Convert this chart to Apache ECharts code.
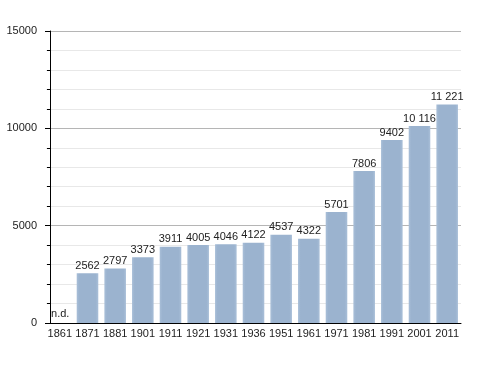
<!DOCTYPE html>
<html><head><meta charset="utf-8">
<script src="https://cdn.jsdelivr.net/npm/echarts@6/dist/echarts.min.js"></script>
<style>html,body{margin:0;padding:0;background:#fff}#c{width:488px;height:373px}</style>
</head><body><div id="c"></div>
<script>
var years = ['1861','1871','1881','1901','1911','1921','1931','1936','1951','1961','1971','1981','1991','2001','2011'];
var population = [null,2562,2797,3373,3911,4005,4046,4122,4537,4322,5701,7806,9402,10116,11221];
var valueLabels = ['n.d.','2562','2797','3373','3911','4005','4046','4122','4537','4322','5701','7806','9402','10 116','11 221'];
var yTicks = [0,5000,10000,15000];

var chart = echarts.init(document.getElementById('c'));
var barColor = new echarts.graphic.LinearGradient(0,0,1,0,[
  {offset:0,color:'#a9bfd8'},{offset:0.12,color:'#9bb3cf'},{offset:0.88,color:'#9bb3cf'},{offset:1,color:'#a9bfd8'}]);
chart.setOption({
  animation:false,
  grid:{left:46,right:27,top:31,bottom:50},
  xAxis:{type:'category',data:years,
    axisLine:{lineStyle:{color:'#000',width:1}},axisTick:{show:false},
    axisLabel:{color:'#222',fontSize:11,fontFamily:'Liberation Sans, Arial',margin:5,interval:0}},
  yAxis:{type:'value',min:yTicks[0],max:yTicks[yTicks.length-1],interval:5000,offset:-4,
    axisLine:{show:true,lineStyle:{color:'#000',width:1}},
    axisTick:{show:true,length:5,lineStyle:{color:'#000'}},
    minorTick:{show:true,splitNumber:5,length:3,lineStyle:{color:'#000'}},
    splitLine:{lineStyle:{color:'#b5b5b5',width:1}},
    minorSplitLine:{show:true,lineStyle:{color:'#e8e8e8',width:1}},
    axisLabel:{color:'#222',fontSize:11,fontFamily:'Liberation Sans, Arial',margin:13,
      formatter:function(v){return String(v);}}},
  series:[{type:'bar',barCategoryGap:'22%',
    data:population.map(function(v,i){
      if(v===null) return {value:0,label:{show:true,position:'insideBottomLeft',offset:[0,-2],formatter:valueLabels[i]}};
      return {value:v};
    }),
    itemStyle:{color:barColor},
    label:{show:true,position:'top',distance:2,color:'#222',fontSize:11,fontFamily:'Liberation Sans, Arial',
      formatter:function(p){return valueLabels[p.dataIndex];}}
  }]
});
</script></body></html>
